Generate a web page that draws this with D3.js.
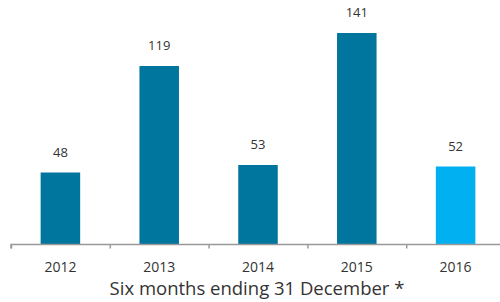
<!DOCTYPE html>
<html>
<head>
<meta charset="utf-8">
<script src="https://cdn.jsdelivr.net/npm/d3@7"></script>
<style>
  body { margin: 0; background: #fff; }
  svg text { font-family: "Open Sans", "Noto Sans", sans-serif; fill: #333; }
</style>
</head>
<body>
<div id="chart"></div>
<script>
// data
const years = ["2012", "2013", "2014", "2015", "2016"];
const values = [48, 119, 53, 141, 52];
const barColors = ["#00769e", "#00769e", "#00769e", "#00769e", "#00b0f0"];
const axisTitle = "Six months ending 31 December *";

let width = 500, height = 302;
let baseline = 244.5;

let svg = d3.select("#chart")
            .append("svg")
            .attr("width", width)
            .attr("height", height);

// scales
let xScale = d3.scaleBand()
               .domain(years)
               .range([11, 505])
               .paddingInner(0.6)
               .paddingOuter(0.3);
let yScale = d3.scaleLinear()
               .domain([0, 141])
               .range([baseline, 33]);

// bars
svg.selectAll("rect.bar")
   .data(values)
   .enter()
   .append("rect")
   .attr("class", "bar")
   .attr("x", (d, i) => xScale(years[i]))
   .attr("y", d => yScale(d))
   .attr("width", xScale.bandwidth())
   .attr("height", d => baseline - yScale(d))
   .attr("fill", (d, i) => barColors[i]);

// value labels
svg.selectAll("text.val")
   .data(values)
   .enter()
   .append("text")
   .attr("class", "val")
   .attr("x", (d, i) => xScale(years[i]) + xScale.bandwidth() / 2)
   .attr("y", d => yScale(d) - 16)
   .attr("text-anchor", "middle")
   .style("font-size", "13px")
   .text(d => d);

// x axis: ticks sit on the band boundaries
let bandAxis = d3.scalePoint()
                 .domain(d3.range(years.length + 1))
                 .range([11, 11 + xScale.step() * years.length]);
let axisG = svg.append("g")
   .attr("transform", "translate(0," + baseline + ")")
   .call(d3.axisBottom(bandAxis).tickSize(4).tickFormat(""));
axisG.select(".domain").attr("stroke", "#999").attr("stroke-width", 1.5)
     .attr("d", "M11,4V0H500");
axisG.selectAll(".tick line").attr("stroke", "#999").attr("stroke-width", 1.5);

// category labels
svg.selectAll("text.cat")
   .data(years)
   .enter()
   .append("text")
   .attr("class", "cat")
   .attr("x", d => xScale(d) + xScale.bandwidth() / 2)
   .attr("y", 272)
   .attr("text-anchor", "middle")
   .style("font-size", "14px")
   .text(d => d);

svg.append("text")
   .attr("x", 257)
   .attr("y", 295)
   .attr("text-anchor", "middle")
   .style("font-size", "18.5px")
   .text(axisTitle);
</script>
</body>
</html>
